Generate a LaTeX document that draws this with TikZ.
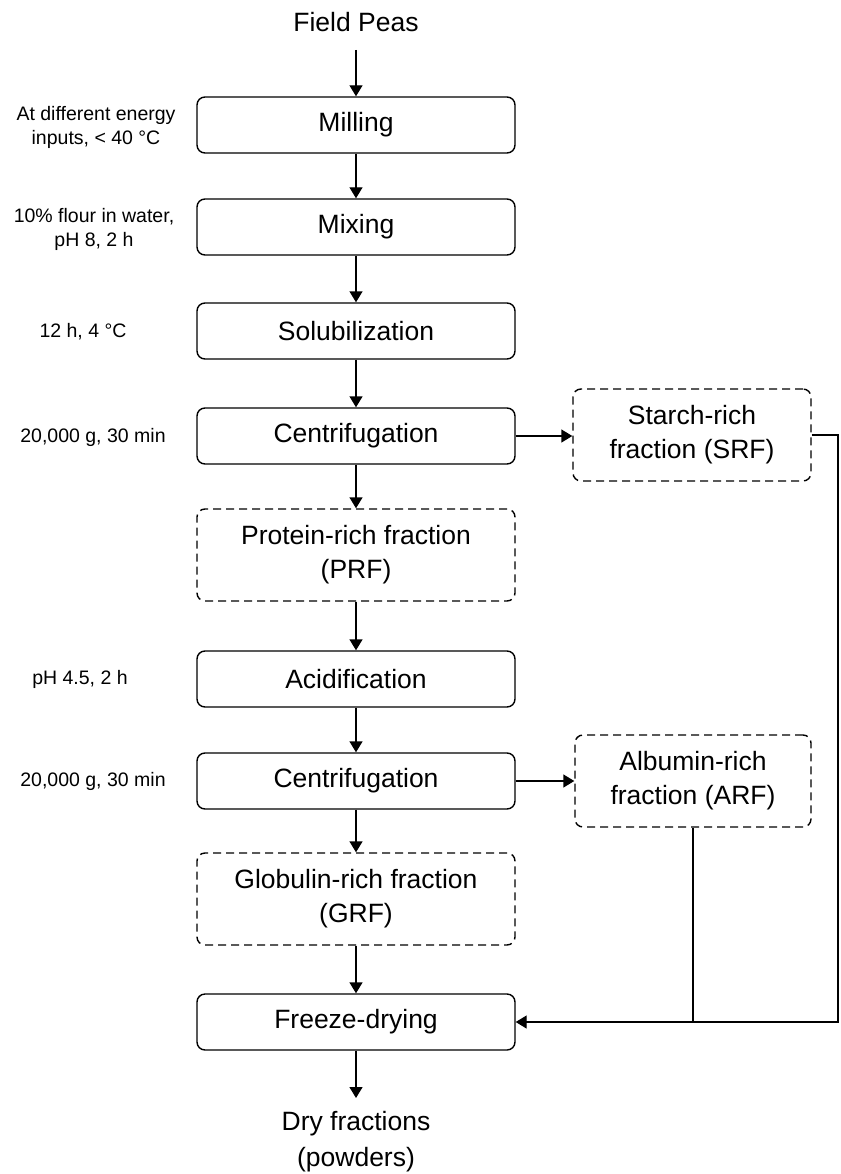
\documentclass[tikz,border=0pt]{standalone}
\usepackage{fontspec}
\setmainfont{Liberation Sans}
\usetikzlibrary{arrows.meta}
\begin{document}
\begin{tikzpicture}[x=1pt,y=-1pt,
  proc/.style={draw, line width=1.4pt, rounded corners=8pt, minimum width=318pt, minimum height=56pt, font=\fontsize{26.5}{34}\selectfont, align=center, inner sep=0pt},
  frac/.style={proc, dash pattern=on 8pt off 5pt, minimum height=92pt},
  lbl/.style={font=\fontsize{19.5}{24}\selectfont, align=center},
  big/.style={font=\fontsize{26.5}{36}\selectfont, align=center},
  arr/.style={-{Triangle[length=11pt,width=13pt]}, line width=1.4pt},
  con/.style={line width=1.4pt}]
\fill[white] (0,0) rectangle (840,1174);
\useasboundingbox (0,0) rectangle (840,1174);
\node[big] (peas) at (356,22) {Field Peas};
\node[proc] (mill) at (356,125) {Milling};
\node[proc] (mix) at (356,227) {Mixing};
\node[proc] (sol) at (356,331) {Solubilization};
\node[proc] (cen1) at (356,436) {Centrifugation};
\node[frac] (prf) at (356,555) {Protein-rich fraction\\(PRF)};
\node[proc] (acid) at (356,679) {Acidification};
\node[proc] (cen2) at (356,781) {Centrifugation};
\node[frac] (grf) at (356,899) {Globulin-rich fraction\\(GRF)};
\node[proc] (fd) at (356,1022) {Freeze-drying};
\node[big] (dry) at (356,1142) {Dry fractions\\(powders)};
\node[frac, minimum width=238pt] (srf) at (692,435) {Starch-rich\\fraction (SRF)};
\node[frac, minimum width=236pt] (arf) at (693,781) {Albumin-rich\\fraction (ARF)};
\node[lbl] (l1) at (96,127) {At different energy\\inputs, < 40 °C};
\node[lbl] (l2) at (94,229) {10\% flour in water,\\pH 8, 2 h};
\node[lbl] (l3) at (83,332) {12 h, 4 °C};
\node[lbl] (l4) at (93,437) {20,000 g, 30 min};
\node[lbl] (l5) at (80,679) {pH 4.5, 2 h};
\node[lbl] (l6) at (93,781) {20,000 g, 30 min};
\coordinate (ptop) at (356,50);
\coordinate (dtip) at (356,1098);
\coordinate (rc) at (838,1022);
\draw[arr] (ptop) -- (mill.north);
\draw[arr] (mill) -- (mix);
\draw[arr] (mix) -- (sol);
\draw[arr] (sol) -- (cen1);
\draw[arr] (cen1) -- (prf);
\draw[arr] (prf) -- (acid);
\draw[arr] (acid) -- (cen2);
\draw[arr] (cen2) -- (grf);
\draw[arr] (grf) -- (fd);
\draw[arr] (fd.south) -- (dtip);
\draw[arr] (cen1.east) -- (cen1.east -| srf.west);
\draw[arr] (cen2.east) -- (cen2.east -| arf.west);
\draw[arr] (srf.east) -| (rc) -- (fd.east);
\draw[con] (arf.south) -- (arf.south |- fd.east);
\end{tikzpicture}
\end{document}
